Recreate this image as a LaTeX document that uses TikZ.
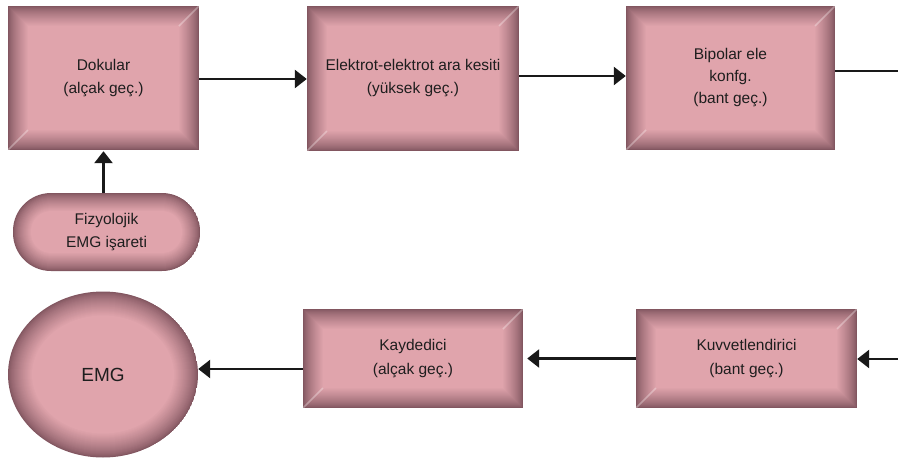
\documentclass[tikz,border=0pt]{standalone}
\usepackage{fontspec}
\setmainfont{Liberation Sans}
\usetikzlibrary{arrows.meta,shapes.geometric}
\definecolor{pinkc}{RGB}{224,164,172}
\definecolor{darkc}{RGB}{130,86,96}
\definecolor{txt}{RGB}{30,30,30}
\definecolor{arr}{RGB}{25,25,25}
\begin{document}
\begin{tikzpicture}[x=1pt,y=-1pt,
  lbl/.style={font=\fontsize{15.5}{23}\selectfont, text=txt, align=center, inner sep=0pt},
  bevbox/.style 2 args={lbl, rectangle, minimum width=#1, minimum height=#2,
    path picture={
      \foreach \i in {0,...,20}{
        \pgfmathtruncatemacro\p{100*(\i/20)^0.75}
        \fill[pinkc!\p!darkc] ([shift={(\i*1pt,\i*1pt)}]path picture bounding box.south west) rectangle ([shift={(-\i*1pt,-\i*1pt)}]path picture bounding box.north east);
      }
      \draw[white, line width=1.5pt, opacity=0.3] (path picture bounding box.north east) -- ++(-20pt,-20pt)
        (path picture bounding box.south west) -- ++(20pt,20pt);
    }},
  stadium/.style 2 args={lbl, rectangle, rounded corners=38pt, minimum width=#1, minimum height=#2,
    path picture={
      \foreach \i in {0,...,18}{
        \pgfmathtruncatemacro\p{100*(\i/18)^0.75}
        \pgfmathsetmacro\r{38-\i}
        \fill[pinkc!\p!darkc, rounded corners=\r pt] ([shift={(\i*1pt,\i*1pt)}]path picture bounding box.south west) rectangle ([shift={(-\i*1pt,-\i*1pt)}]path picture bounding box.north east);
      }
    }},
  oval/.style 2 args={lbl, ellipse, minimum width=#1, minimum height=#2,
    path picture={
      \foreach \i in {0,...,24}{
        \pgfmathtruncatemacro\p{100*(\i/24)^0.75}
        \pgfmathsetmacro\rx{#1/2-\i}
        \pgfmathsetmacro\ry{#2/2-\i}
        \fill[pinkc!\p!darkc] (path picture bounding box.center) ellipse [x radius=\rx pt, y radius=\ry pt];
      }
    }},
  conn/.style={draw=arr, line width=2.6pt, -{Triangle[length=12pt,width=18pt]}},
  plain/.style={draw=arr, line width=2.6pt}
]
\useasboundingbox (0,0) rectangle (898,461);

\node[bevbox={191pt}{144pt}] (b1) at (103.5,78) {Dokular\\(alçak geç.)};
\node[bevbox={212pt}{145pt}] (b2) at (413,78.5) {Elektrot-elektrot ara kesiti\\(yüksek geç.)};
\node[bevbox={209pt}{144pt}, font=\fontsize{15.5}{22}\selectfont] (b3) at (730.5,78) {Bipolar ele\\konfg.\\(bant geç.)};
\node[stadium={187pt}{78pt}] (fiz) at (106.5,232) {Fizyolojik\\EMG işareti};
\node[oval={190}{166}, font=\fontsize{19}{22}\selectfont] (emg) at (103,374.5) {EMG};
\node[bevbox={220pt}{99pt}, font=\fontsize{15.5}{24}\selectfont] (kay) at (413,358.5) {Kaydedici\\(alçak geç.)};
\node[bevbox={221pt}{99pt}, font=\fontsize{15.5}{24}\selectfont] (kuv) at (746.5,358.5) {Kuvvetlendirici\\(bant geç.)};

\coordinate (outr) at (898,71);
\coordinate (inr) at (898,359);

\draw[conn] ([yshift=-1pt]b1.east) -- ([yshift=-1pt]b1.east -| b2.west);
\draw[conn] ([yshift=2.5pt]b2.east) -- ([yshift=2.5pt]b2.east -| b3.west);
\draw[plain] (outr -| b3.east) -- (outr);
\draw[conn] (inr) -- (inr -| kuv.east);
\draw[conn] (kuv.west) -- ([xshift=4pt]kuv.west -| kay.east);
\draw[conn] ([yshift=-10.5pt]kay.west) -- ([yshift=-10.5pt]kay.west -| emg.east);
\draw[conn] (b1.south |- fiz.north) -- ([yshift=-1pt]b1.south);
\end{tikzpicture}
\end{document}
